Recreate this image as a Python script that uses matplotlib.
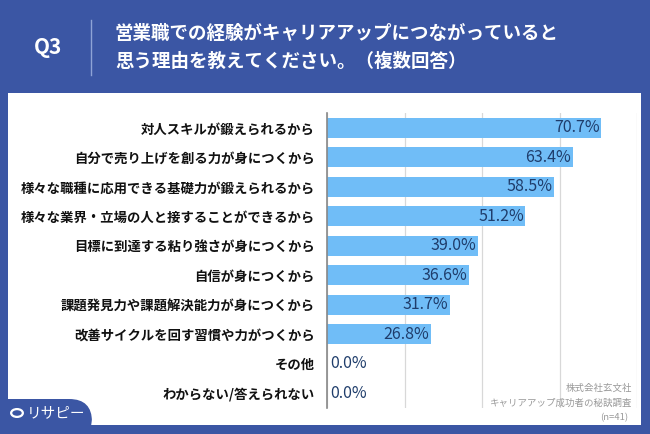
import matplotlib
matplotlib.use("Agg")
import matplotlib.pyplot as plt
from matplotlib.patches import FancyBboxPatch, Rectangle, Circle

plt.rcParams['font.family'] = ['Noto Sans CJK JP', 'DejaVu Sans']

categories = [
    "対人スキルが鍛えられるから",
    "自分で売り上げを創る力が身につくから",
    "様々な職種に応用できる基礎力が鍛えられるから",
    "様々な業界・立場の人と接することができるから",
    "目標に到達する粘り強さが身につくから",
    "自信が身につくから",
    "課題発見力や課題解決能力が身につくから",
    "改善サイクルを回す習慣や力がつくから",
    "その他",
    "わからない/答えられない",
]
values = [70.7, 63.4, 58.5, 51.2, 39.0, 36.6, 31.7, 26.8, 0.0, 0.0]
xticks = [0, 20, 40, 60, 80]

title_q = "Q3"
title_lines = ["営業職での経験がキャリアアップにつながっていると",
               "思う理由を教えてください。（複数回答）"]
source_lines = ["株式会社玄文社", "キャリアアップ成功者の秘訣調査", "(n=41)"]

BLUE = "#3b56a4"
BAR = "#70bdf7"
LABEL = "#1f3d6b"

W, H = 650, 434
fig = plt.figure(figsize=(6.5, 4.34), dpi=100)
fig.patch.set_facecolor(BLUE)

def fx(px):
    return px / W

def fy(py):
    return 1 - py / H

# white panel
panel = Rectangle((fx(8), fy(425)), fx(641) - fx(8), fy(93) - fy(425),
                  transform=fig.transFigure, facecolor="white", edgecolor="none", zorder=0)
fig.add_artist(panel)

# logo tab
tab = FancyBboxPatch((fx(-20), fy(440)), fx(112), fy(399) - fy(440),
                     boxstyle="round,pad=0,rounding_size=0.035",
                     transform=fig.transFigure, facecolor=BLUE, edgecolor="none", zorder=1,
                     mutation_aspect=1.5)
fig.add_artist(tab)
fig.add_artist(Circle((fx(17), fy(413)), 0.009, transform=fig.transFigure,
                      facecolor="none", edgecolor="white", linewidth=1.6, zorder=2))
fig.text(fx(27), fy(413), "リサピー", color="white", fontsize=10.5,
         ha="left", va="center", zorder=3)

# header
fig.text(fx(48), fy(47), title_q, color="white", fontsize=15, fontweight="bold",
         ha="center", va="center")
fig.add_artist(plt.Line2D([fx(91), fx(91)], [fy(20), fy(75)], transform=fig.transFigure,
                          color="#8fa3d6", linewidth=1))
fig.text(fx(115), fy(33), title_lines[0], color="white", fontsize=13.3, fontweight="bold",
         ha="left", va="center")
fig.text(fx(115), fy(61), title_lines[1], color="white", fontsize=13.3, fontweight="bold",
         ha="left", va="center")

# axes
ax = fig.add_axes([fx(327), fy(408), fx(637) - fx(327), fy(113) - fy(408)])
ax.set_facecolor("none")
y = list(range(len(categories)))
ax.barh(y, values, height=0.68, color=BAR, zorder=2)
ax.set_xlim(0, 80)
ax.set_ylim(len(categories) - 0.5, -0.5)
ax.set_xticks(xticks)
ax.tick_params(axis="x", length=0, labelbottom=False)
ax.tick_params(axis="y", length=0, pad=9)
ax.set_yticks(y)
ax.set_yticklabels(categories, fontsize=9.6, fontweight="bold", color="#111111")
ax.grid(axis="x", color="#d8d8d8", linewidth=0.9, zorder=0)
for s in ["top", "right", "bottom"]:
    ax.spines[s].set_visible(False)
ax.spines["left"].set_color("#888888")
ax.spines["left"].set_linewidth(1.2)
ax.spines["left"].set_zorder(3)

for yi, v in zip(y, values):
    if v > 0:
        ax.text(v - 0.4, yi, f"{v:.1f}%", ha="right", va="center", fontsize=11.5,
                color=LABEL, zorder=4)
    else:
        ax.text(0.8, yi, f"{v:.1f}%", ha="left", va="center", fontsize=11.5,
                color=LABEL, zorder=4)

# source
for i, line in enumerate(source_lines):
    fig.text(fx(632) if i < 2 else fx(628), fy(388 + i * 15), line, color="#999999", fontsize=6.8,
             ha="right", va="center")

fig.savefig("out.png", dpi=100, facecolor=fig.get_facecolor())
